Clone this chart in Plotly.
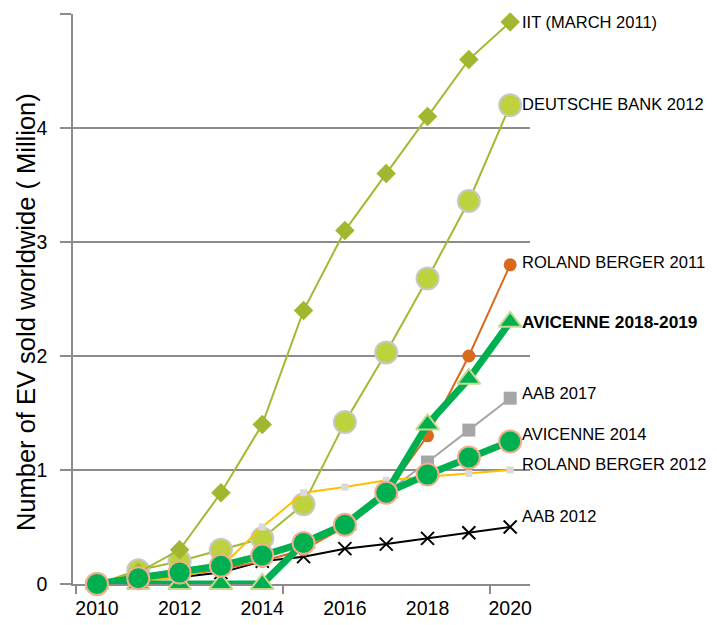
import plotly.graph_objects as go

# ---------------- data ----------------
years = [2010, 2011, 2012, 2013, 2014, 2015, 2016, 2017, 2018, 2019, 2020]
x_tick_labels = [2010, 2012, 2014, 2016, 2018, 2020]
y_ticks = [0, 1, 2, 3, 4, 5]

iit_march_2011 = [0, 0.1, 0.3, 0.8, 1.4, 2.4, 3.1, 3.6, 4.1, 4.6, 4.93]
deutsche_bank_2012 = [0, 0.12, 0.2, 0.3, 0.4, 0.7, 1.42, 2.03, 2.68, 3.36, 4.2]
roland_berger_2011 = [0, 0.03, 0.07, 0.13, 0.2, 0.3, 0.5, 0.8, 1.3, 2.0, 2.8]
avicenne_2018_2019 = [0, 0, 0, 0, 0, 0.36, 0.52, 0.8, 1.4, 1.8, 2.3]
aab_2017_years = [2017, 2018, 2019, 2020]
aab_2017 = [0.8, 1.07, 1.35, 1.63]
avicenne_2014 = [0, 0.05, 0.1, 0.16, 0.25, 0.36, 0.52, 0.8, 0.96, 1.11, 1.25]
roland_berger_2012 = [0, 0.02, 0.06, 0.15, 0.5, 0.8, 0.85, 0.91, 0.94, 0.97, 1.0]
aab_2012 = [0, 0.03, 0.06, 0.1, 0.2, 0.24, 0.31, 0.35, 0.4, 0.45, 0.5]

FONT = "Liberation Sans, Arial, sans-serif"
GRID = "#8c8c8c"

fig = go.Figure()

# (name, x, y, line dict, marker dict, label yshift px, bold)
series = [
    ("AAB 2012", years, aab_2012,
     dict(color="#000000", width=2),
     dict(symbol="x-thin", size=13, line=dict(color="#000000", width=2)), 11, False),
    ("ROLAND BERGER 2011", years, roland_berger_2011,
     dict(color="#D86A1E", width=2),
     dict(symbol="circle", size=13, color="#D86A1E"), 3, False),
    ("AAB 2017", aab_2017_years, aab_2017,
     dict(color="#A6A6A6", width=2),
     dict(symbol="square", size=13, color="#A6A6A6"), 5, False),
    ("DEUTSCHE BANK 2012", years, deutsche_bank_2012,
     dict(color="#A3B932", width=2),
     dict(symbol="circle", size=22, color="#BED23E",
          line=dict(color="#C8C8C8", width=2)), 1, False),
    ("IIT (MARCH 2011)", years, iit_march_2011,
     dict(color="#A3B932", width=2),
     dict(symbol="diamond", size=15, color="#A2B630"), 0, False),
    ("ROLAND BERGER 2012", years, roland_berger_2012,
     dict(color="#FFC000", width=2),
     dict(symbol="square", size=7, color="#D9D9D9"), 6, False),
    ("AVICENNE 2018-2019", years, avicenne_2018_2019,
     dict(color="#00B050", width=7),
     dict(symbol="triangle-up", size=20, color="#00B050",
          line=dict(color="#C6DA8E", width=2)), 0, True),
    ("AVICENNE 2014", years, avicenne_2014,
     dict(color="#00B050", width=7),
     dict(symbol="circle", size=22, color="#00B050",
          line=dict(color="#F2AE8A", width=2)), 8, False),
]

for name, xs, ys, ln, mk, yshift, bold in series:
    fig.add_trace(go.Scatter(
        x=xs, y=ys, name=name, mode="lines+markers",
        line=ln, marker=mk, cliponaxis=False, showlegend=False,
    ))
    fig.add_annotation(
        x=xs[-1], y=ys[-1], xref="x", yref="y",
        text=f"<b>{name}</b>" if bold else name,
        showarrow=False, xanchor="left", yanchor="middle",
        xshift=10, yshift=yshift,
        font=dict(family=FONT, size=17.3 if bold else 16.5, color="#000000"),
    )

# y-axis title
fig.add_annotation(
    text="Number of EV sold worldwide ( Million)",
    xref="paper", yref="paper", x=0, y=0.477, xshift=-47,
    xanchor="center", yanchor="middle", textangle=-90, showarrow=False,
    font=dict(family=FONT, size=25.5, color="#000000"),
)

fig.update_layout(
    width=709, height=617,
    margin=dict(l=65, r=187, t=6, b=41, autoexpand=False),
    plot_bgcolor="white", paper_bgcolor="white",
    font=dict(family=FONT, color="#000000"),
    xaxis=dict(
        range=[2009.42, 2020.48],
        tickmode="array", tickvals=x_tick_labels,
        ticks="", showgrid=False, zeroline=False,
        showline=True, linecolor=GRID, linewidth=1.5,
        tickfont=dict(family=FONT, size=19.5, color="#000000"),
        ticklabelstandoff=6,
        minor=dict(tickmode="array", tickvals=[2009.5, 2014.5, 2019.5],
                   ticks="outside", ticklen=8, tickcolor=GRID, tickwidth=1.5,
                   showgrid=False),
        layer="below traces",
    ),
    yaxis=dict(
        range=[0, 5],
        tickmode="array", tickvals=y_ticks,
        ticks="outside", ticklen=11, tickcolor=GRID, tickwidth=1.5,
        showgrid=True, gridcolor=GRID, gridwidth=1.5, zeroline=False,
        showline=True, linecolor=GRID, linewidth=1.5,
        tickfont=dict(family=FONT, size=19.5, color="#000000"),
        ticklabelstandoff=9,
        layer="below traces",
    ),
)

fig.write_html("out.html")
